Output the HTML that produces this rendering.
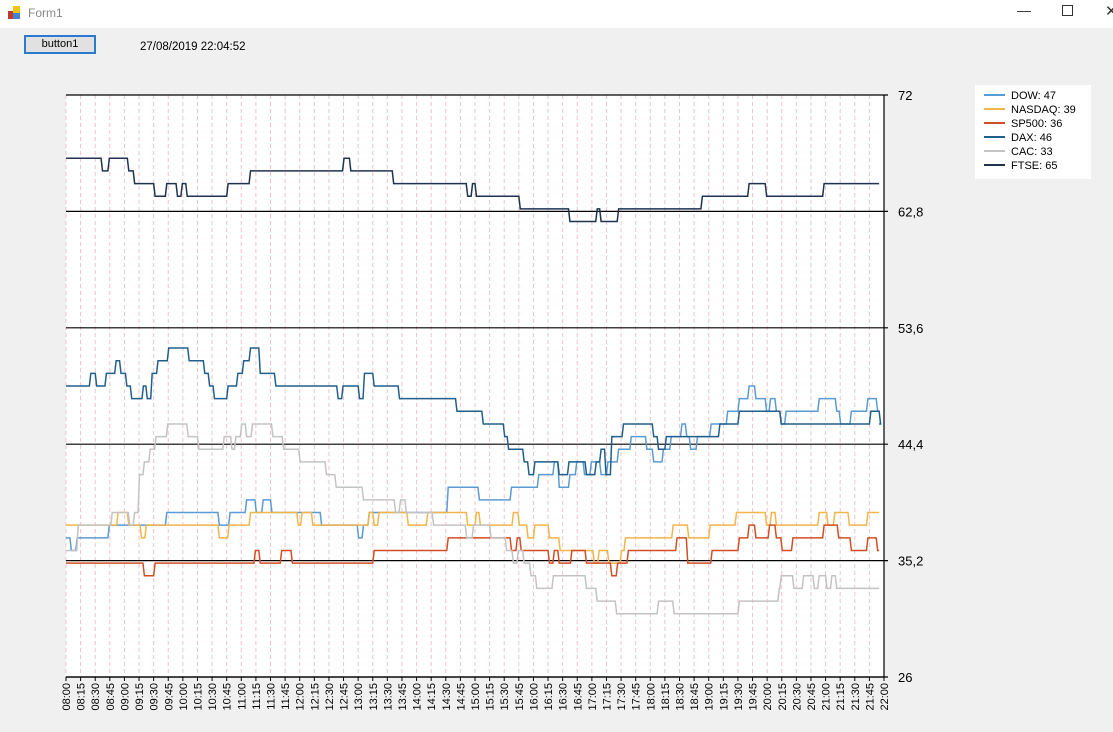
<!DOCTYPE html>
<html><head><meta charset="utf-8"><style>
body{margin:0;width:1113px;height:732px;background:#f0f0f0;font-family:"Liberation Sans",sans-serif;overflow:hidden;position:relative}
#titlebar{position:absolute;left:0;top:0;width:1113px;height:28px;background:#fff}
#btn{position:absolute;left:24px;top:35px;width:68px;height:15px;border:2px solid #2a7ad0;background:#e1e1e1;font-size:11px;text-align:center;line-height:15px;color:#000}
#dt{position:absolute;left:140px;top:41px;font-size:11.5px;color:#000}
svg{position:absolute;left:0;top:0}
</style></head><body>
<div id="titlebar">
<svg width="20" height="20" style="left:7px;top:5px"><rect x="1" y="6" width="6" height="8" fill="#c0392b"/><rect x="6" y="1" width="7" height="7" fill="#f1c40f"/><rect x="6" y="8" width="7" height="6" fill="#4a7fd0"/></svg>
<span style="position:absolute;left:28px;top:6px;font-size:12px;color:#888">Form1</span>
<span style="position:absolute;left:1017px;top:2px;font-size:14px;color:#333">—</span>
<span style="position:absolute;left:1062px;top:5px;width:9px;height:9px;border:1px solid #333"></span>
<span style="position:absolute;left:1105px;top:2px;font-size:15px;color:#333">✕</span>
</div>
<div id="btn">button1</div>
<div id="dt">27/08/2019 22:04:52</div>
<svg id="chart" width="1113" height="732"></svg>
<script>
const yTicks=[72,62.8,53.6,44.4,35.2,26];
const xLabels=[];for(let h=8;h<=22;h++)for(const m of ["00","15","30","45"]){if(h===22&&m!=="00")break;xLabels.push((h<10?"0":"")+h+":"+m);}
const seriesNames=["DOW","NASDAQ","SP500","DAX","CAC","FTSE"];
const dowT=[0,4,10,43,102,156,167,184,194,201,210,261,299,304,310,391,423,456,484,500,505,516,523,531,538,548,555,566,579,595,602,612,620,631,636,640,647,661,678,690,700,707,718,722,728,733,738,772,790,794,805,822,832];
const dowV=[37,36,37,38,39,38,39,40,39,40,39,38,37,38,39,41,40,41,42,43,41,42,43,42,43,42,43,44,45,44,43,44,45,46,45,44,45,46,47,48,49,48,47,48,47,46,47,48,47,46,47,48,47];
const nasT=[0,52,63,76,81,156,166,188,237,241,252,310,315,320,350,370,411,420,424,458,464,473,480,495,506,541,546,556,569,573,622,638,660,687,718,723,728,772,781,788,803,822];
const nasV=[38,39,38,37,38,37,38,39,38,39,38,39,38,39,38,39,38,39,38,39,38,37,38,37,36,35,36,35,36,37,38,37,38,39,38,39,38,39,38,39,38,39];
const spT=[0,79,90,193,198,220,231,315,391,456,462,466,495,500,505,518,533,559,565,576,626,637,662,690,700,707,721,728,734,745,777,792,805,822,832];
const spV=[35,34,35,36,35,36,35,36,37,36,37,36,35,36,35,36,35,34,35,36,37,35,36,37,38,37,38,37,36,37,38,37,36,37,36];
const daxT=[0,24,30,40,50,55,61,66,78,82,87,93,104,125,141,146,151,165,175,181,188,198,214,278,283,300,305,315,341,400,427,449,453,469,474,480,505,515,533,543,548,553,559,571,602,607,615,670,690,733,825,835];
const daxV=[49,50,49,50,51,50,49,48,49,48,50,51,52,51,50,49,48,49,50,51,52,50,49,48,49,48,50,49,48,47,46,45,44,43,42,43,42,43,42,43,44,42,45,46,45,44,45,46,47,46,47,46];
const cacT=[0,11,46,64,69,74,79,85,91,103,124,135,161,169,173,179,184,190,211,222,239,266,276,304,337,342,348,376,410,417,435,451,458,463,469,476,482,499,533,544,564,607,623,690,731,733,746,756,767,772,780,785,790];
const cacV=[36,38,39,38,39,42,43,44,45,46,45,44,45,44,45,46,45,46,45,44,43,42,41,40,39,40,39,38,37,38,37,36,35,36,35,34,33,34,33,32,31,32,31,32,33,34,33,34,33,34,33,34,33];
const ftseT=[0,36,43,63,69,90,102,113,118,123,165,188,284,291,335,411,416,420,465,516,544,548,566,652,700,718,777];
const ftseV=[67,66,67,66,65,64,65,64,65,64,65,66,67,66,65,64,65,64,63,62,63,62,63,64,65,64,65];
const endMinute=835;
const colors=["#5b9bd5","#f2b54a","#d24e24","#215f8c","#c3c3c3","#1f3350"];
const allT=[dowT,nasT,spT,daxT,cacT,ftseT],allV=[dowV,nasV,spV,daxV,cacV,ftseV];

const L=66,R=884,T=95,B=677,ymin=26,ymax=72,totalMin=840;
const xs=m=>L+(R-L)*m/totalMin;
const ys=v=>B-(B-T)*(v-ymin)/(ymax-ymin);
const NS="http://www.w3.org/2000/svg";
const svg=document.getElementById("chart");
function mk(tag,attrs,parent){const e=document.createElementNS(NS,tag);for(const k in attrs)e.setAttribute(k,attrs[k]);(parent||svg).appendChild(e);return e;}
const plot=mk("rect",{x:L,y:T,width:R-L,height:B-T,fill:"#fff"});


xLabels.forEach((lab,i)=>{
  const x=xs(i*15);
  const g=mk("line",{x1:x,y1:T,x2:x,y2:B,stroke:"#eac4cc","stroke-width":1,"stroke-dasharray":"4,3"});
  
  
  const tk=mk("line",{x1:x,y1:B,x2:x,y2:B+4,stroke:"#000"});
  
  
  const t=mk("text",{x:0,y:0,"font-size":"11","text-anchor":"end",transform:`translate(${x+4},${B+6}) rotate(-90)`,fill:"#000"});
  t.textContent=lab;
  
  
});
yTicks.forEach(v=>{
  const y=ys(v);
  const g=mk("line",{x1:L,y1:y,x2:R+4,y2:y,stroke:"#000","stroke-width":1.2});
  
  
  const t=mk("text",{x:R+14,y:y+5,"font-size":"13",fill:"#000"});
  t.textContent=String(v).replace(".",",");
  
  
});
const ax=mk("line",{x1:R,y1:T,x2:R,y2:B,stroke:"#000","stroke-width":1.2});


const xa=mk("line",{x1:L,y1:B,x2:R,y2:B,stroke:"#000","stroke-width":1.2});


allT.forEach((ts,s)=>{
  const vs=allV[s];
  let d=`M${xs(ts[0])},${ys(vs[0])}`;
  for(let i=1;i<ts.length;i++){d+=` L${xs(ts[i])},${ys(vs[i-1])} L${xs(ts[i]+1.5)},${ys(vs[i])}`;}
  d+=` L${xs(endMinute)},${ys(vs[vs.length-1])}`;
  const p=mk("path",{d:d,fill:"none",stroke:colors[s],"stroke-width":1.5});
  
  
});
const lg=mk("g",{});


mk("rect",{x:975,y:85,width:116,height:94,fill:"#fff"},lg);
seriesNames.forEach((n,i)=>{
  const y=95+i*14;
  const ln=mk("line",{x1:984,y1:y,x2:1005,y2:y,stroke:colors[i],"stroke-width":2},lg);
  
  
  const t=mk("text",{x:1011,y:y+4,"font-size":"11",fill:"#000"},lg);
  t.textContent=n+": "+allV[i][allV[i].length-1];
  
  
});
</script>
</body></html>
